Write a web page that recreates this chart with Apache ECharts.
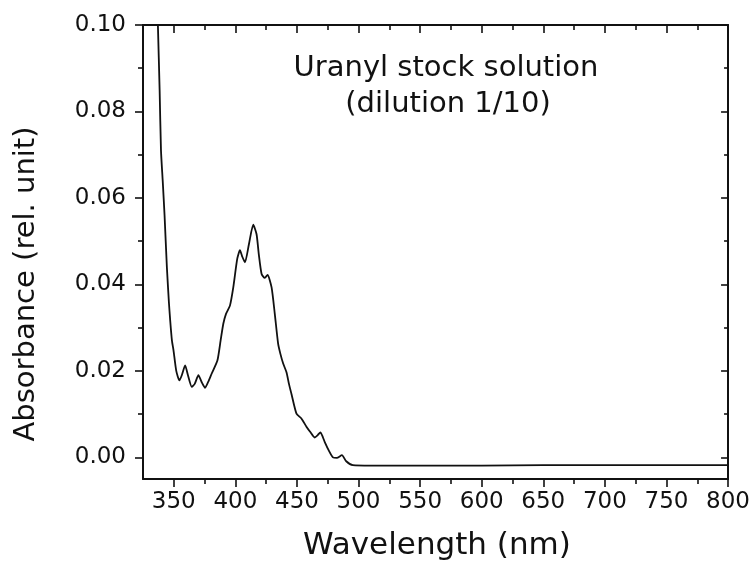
<!DOCTYPE html>
<html>
<head>
<meta charset="utf-8">
<script src="https://cdn.jsdelivr.net/npm/echarts@6/dist/echarts.min.js"></script>
<style>
  html, body { margin: 0; padding: 0; background: #fff; }
  #chart { width: 753px; height: 564px; }
</style>
</head>
<body>
<div id="chart"></div>
<script>
// spectrum (nm, absorbance)
var wavelength = [336, 337.1, 338.5, 339.6, 341, 342.5, 344.4, 346, 347.1, 348.5, 349.8, 352, 354.6, 356.5,
  359.2, 361.5, 364.6, 367, 370, 372.5, 375.4, 378, 380.8, 385.4, 388, 390.2, 392.4, 395.6, 398.3, 401.5,
  403.7, 405.5, 407.8, 411, 414.5, 417.2, 419, 421.3, 423.9, 426.1, 429.4, 432, 434.7, 436.5, 438.8, 441.5,
  443.5, 445.5, 449.6, 453.6, 457.7, 461, 464.4, 467, 469, 471, 472.5, 476, 479.2, 482.4, 486.5, 490, 495.4,
  510, 550, 600, 650, 700, 750, 800];
var absorbance = [0.112, 0.100, 0.085, 0.071, 0.064, 0.056, 0.0439, 0.036, 0.0316, 0.027, 0.0247, 0.020, 0.0178, 0.019,
  0.0213, 0.019, 0.0163, 0.017, 0.0190, 0.0175, 0.0161, 0.0175, 0.0194, 0.0224, 0.027, 0.0309, 0.0332, 0.0351, 0.0393, 0.0459,
  0.0479, 0.0465, 0.0451, 0.0493, 0.0538, 0.0516, 0.047, 0.0424, 0.0415, 0.0422, 0.0393, 0.0332, 0.0263, 0.024, 0.0217, 0.0197,
  0.017, 0.0147, 0.0101, 0.0090, 0.0071, 0.0058, 0.0046, 0.0052, 0.0058, 0.0047, 0.0036, 0.0015, 0.0000, -0.0001, 0.0005, -0.0009, -0.0018,
  -0.0019, -0.0019, -0.0019, -0.0018, -0.0018, -0.0018, -0.0018];

var xMajorTicks = [350, 400, 450, 500, 550, 600, 650, 700, 750, 800];
var xMinorTicks = [375, 425, 475, 525, 575, 625, 675, 725, 775];
var yMajorTicks = [0, 0.02, 0.04, 0.06, 0.08, 0.10];
var yMinorTicks = [0.01, 0.03, 0.05, 0.07, 0.09];

var xRange = [325, 800];
var yRange = [-0.005, 0.10];

var FONT = 'DejaVu Sans';
var INK = '#111';

var chart = echarts.init(document.getElementById('chart'), null, {renderer: 'canvas'});

function makeAxis(range, position, ticks, opts) {
  return {
    type: 'value',
    position: position,
    min: range[0],
    max: range[1],
    splitLine: {show: false},
    axisLine: {show: opts.line, onZero: false, lineStyle: {color: INK, width: 2}},
    axisTick: {
      show: true,
      inside: opts.inside,
      length: opts.len,
      customValues: ticks,
      lineStyle: {color: INK, width: 1.6}
    },
    axisLabel: opts.labels ? {
      show: true,
      customValues: ticks,
      margin: opts.margin,
      color: INK,
      fontFamily: FONT,
      fontSize: 23,
      formatter: opts.formatter
    } : {show: false}
  };
}

var xAxes = [
  makeAxis(xRange, 'bottom', xMajorTicks, {line: true, inside: false, len: 8, labels: true, margin: 12,
    formatter: function (v) { return String(v); }}),
  makeAxis(xRange, 'bottom', xMinorTicks, {line: false, inside: false, len: 5}),
  makeAxis(xRange, 'top', xMajorTicks, {line: true, inside: true, len: 8}),
  makeAxis(xRange, 'top', xMinorTicks, {line: false, inside: true, len: 5})
];
var yAxes = [
  makeAxis(yRange, 'left', yMajorTicks, {line: true, inside: false, len: 8, labels: true, margin: 17,
    formatter: function (v) { return v.toFixed(2); }}),
  makeAxis(yRange, 'left', yMinorTicks, {line: false, inside: false, len: 5}),
  makeAxis(yRange, 'right', yMajorTicks, {line: true, inside: true, len: 7}),
  makeAxis(yRange, 'right', yMinorTicks, {line: false, inside: true, len: 4})
];

var points = wavelength.map(function (w, i) { return [w, absorbance[i]]; });

chart.setOption({
  backgroundColor: '#fff',
  animation: false,
  grid: {left: 143, right: 22, top: 25, bottom: 85, containLabel: false},
  xAxis: xAxes,
  yAxis: yAxes,
  graphic: [
    {
      type: 'text', x: 446, y: 68,
      style: {text: 'Uranyl stock solution', fill: INK, font: '29px "' + FONT + '"', align: 'center', verticalAlign: 'middle'}
    },
    {
      type: 'text', x: 448, y: 104,
      style: {text: '(dilution 1/10)', fill: INK, font: '29px "' + FONT + '"', align: 'center', verticalAlign: 'middle'}
    },
    {
      type: 'text', x: 437, y: 546,
      style: {text: 'Wavelength (nm)', fill: INK, font: '31px "' + FONT + '"', align: 'center', verticalAlign: 'middle'}
    },
    {
      type: 'text', x: 26, y: 284, rotation: Math.PI / 2,
      style: {text: 'Absorbance (rel. unit)', fill: INK, font: '29px "' + FONT + '"', align: 'center', verticalAlign: 'middle'}
    }
  ],
  series: [{
    type: 'line',
    xAxisIndex: 0,
    yAxisIndex: 0,
    data: points,
    showSymbol: false,
    smooth: 0.2,
    clip: true,
    lineStyle: {color: INK, width: 1.8}
  }]
});
</script>
</body>
</html>
